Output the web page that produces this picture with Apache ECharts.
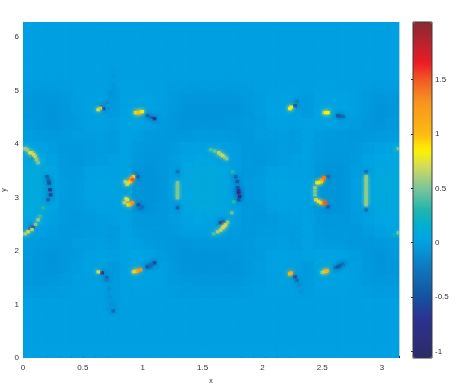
<!DOCTYPE html>
<html><head><meta charset="utf-8">
<style>html,body{margin:0;padding:0;background:#fff}#c{width:467px;height:386px}</style>
<script src="https://cdn.jsdelivr.net/npm/echarts@6/dist/echarts.min.js"></script>
</head><body><div id="c"></div>
<script>
var xTicks=[0,0.5,1,1.5,2,2.5,3];
var yTicks=[0,1,2,3,4,5,6];
var barTicks=[-1,-0.5,0,0.5,1,1.5];
var colorRange=[-1.06,2.03];
var colorStops=[[-1.06,'#2b2c66'],[-0.7,'#2e3192'],[-0.5,'#12539f'],[-0.25,'#0f75bc'],[0.03,'#00a5e6'],[0.15,'#00aed0'],[0.3,'#1fb5ad'],[0.5,'#7cc59c'],[0.7,'#d2dc5a'],[0.85,'#fff200'],[1.0,'#fdb913'],[1.3,'#f7941d'],[1.5,'#f15a24'],[1.65,'#ed1c24'],[1.85,'#b5232e'],[2.03,'#8a2a32']];
// coarse field, hundredths, rows from the top (y=2pi) to the bottom
var fieldRows=[
[0,0,0,0,0,0,0,0,0,0,0,0,0,0,0,0,0,0,0,0,0,0,0,0,0,0,0,0,0,0,0],
[0,0,0,0,0,0,0,0,0,0,0,0,0,0,0,0,0,0,0,0,0,0,0,0,0,0,0,0,0,0,0],
[0,0,0,0,0,0,0,0,0,0,0,0,0,0,0,0,0,0,0,0,0,0,0,0,0,0,0,0,0,0,0],
[0,0,0,0,0,0,0,0,0,0,0,0,0,0,0,0,0,0,0,0,0,0,0,0,0,0,0,0,0,0,0],
[0,0,0,0,0,0,0,0,0,0,0,0,0,0,0,0,0,0,0,0,0,0,0,0,0,0,0,0,0,0,0],
[-1,-1,-1,-1,0,0,0,0,1,1,0,0,-1,-1,-1,-1,-1,-1,-1,0,0,0,0,0,1,1,0,0,-1,-1,-1],
[-4,-4,-4,-3,0,1,2,-3,2,3,3,1,-2,-4,-4,-4,-4,-4,-3,-1,1,2,2,-2,3,3,3,1,-3,-4,-4],
[-4,-4,-5,-4,-1,2,3,-3,3,5,4,1,-3,-5,-5,-5,-5,-5,-4,-1,2,3,2,-3,3,5,4,1,-3,-5,-5],
[-3,-4,-5,-4,-2,1,2,1,4,5,2,-1,-4,-5,-5,-5,-5,-4,-3,-2,1,2,1,2,4,4,2,-1,-4,-5,-4],
[-1,-2,-3,-3,-1,-1,0,-2,3,0,-2,-3,-4,-4,-3,-3,-3,-3,-3,-1,-1,0,-2,2,-1,-2,-3,-4,-4,-3,-2],
[3,2,-1,-3,-3,-2,-1,-3,3,-2,-3,-3,-2,1,2,2,1,-1,-3,-3,-2,-1,-2,3,-2,-3,-3,-3,-1,2,3],
[5,5,2,-2,-4,-3,-1,0,3,-3,-4,-4,-1,3,5,4,3,0,-3,-4,-3,-1,0,3,-3,-4,-4,-2,2,5,5],
[8,8,5,-2,-3,1,2,1,3,-4,-5,-4,-1,5,8,8,6,1,-3,-3,1,2,1,2,-4,-5,-5,-1,4,7,8],
[9,9,6,-1,-2,2,4,3,3,-5,-6,-5,0,6,9,9,7,1,-2,-1,2,4,3,3,-5,-6,-5,0,5,8,9],
[9,9,6,-1,-2,2,4,3,3,-5,-6,-5,0,6,9,9,7,1,-2,-1,2,4,3,3,-5,-6,-5,0,5,8,9],
[8,8,5,-2,-3,1,2,1,3,-4,-5,-4,-1,5,8,8,6,1,-3,-3,1,2,1,2,-4,-5,-5,-1,4,7,8],
[5,5,2,-2,-4,-3,-1,0,3,-3,-4,-4,-1,3,5,4,3,0,-3,-4,-3,-1,0,3,-3,-4,-4,-2,2,5,5],
[3,2,-1,-3,-3,-2,-1,-3,3,-2,-3,-3,-2,1,2,2,1,-1,-3,-3,-2,-1,-2,3,-2,-3,-3,-3,-1,2,3],
[-1,-2,-3,-3,-1,-1,0,-2,3,0,-2,-3,-4,-4,-3,-3,-3,-3,-3,-1,-1,0,-2,2,-1,-2,-3,-4,-4,-3,-2],
[-3,-4,-5,-4,-2,1,2,1,4,5,2,-1,-4,-5,-5,-5,-5,-4,-3,-2,1,2,1,2,4,4,2,-1,-4,-5,-4],
[-4,-4,-5,-4,-1,2,3,-3,3,5,4,1,-3,-5,-5,-5,-5,-5,-4,-1,2,3,2,-3,3,5,4,1,-3,-5,-5],
[-4,-4,-4,-3,0,1,2,-3,2,3,3,1,-2,-4,-4,-4,-4,-4,-3,-1,1,2,2,-2,3,3,3,1,-3,-4,-4],
[-2,-2,-2,-1,0,1,1,-2,1,1,1,0,-1,-2,-2,-2,-2,-2,-1,0,1,1,1,-1,1,1,1,0,-1,-2,-2],
[0,0,0,0,0,0,0,-1,0,0,0,0,0,0,0,0,0,0,0,0,0,0,0,0,0,0,0,0,0,0,0],
[0,0,0,0,0,0,0,0,0,0,0,0,0,0,0,0,0,0,0,0,0,0,0,0,0,0,0,0,0,0,0],
[0,0,0,0,0,0,0,0,0,0,0,0,0,0,0,0,0,0,0,0,0,0,0,0,0,0,0,0,0,0,0],
[0,0,0,0,0,0,0,0,0,0,0,0,0,0,0,0,0,0,0,0,0,0,0,0,0,0,0,0,0,0,0],
[0,0,0,0,0,0,0,0,0,0,0,0,0,0,0,0,0,0,0,0,0,0,0,0,0,0,0,0,0,0,0]
];
// sharp features [x, y, value]
var troughs=[[.084,3.745,-.3],[.201,3.39,-.4],[.214,3.32,-.35],[.218,3.27,-.5],[.226,3.146,-.65],[.23,3.05,-.6],[.21,2.959,-.4],[.084,2.453,-.7],[.059,2.416,-.5],
[.956,3.39,-.5],[.94,3.44,-.25],[.964,2.865,-.5],[.98,2.8,-.25],[.997,2.828,-.3],[1.291,3.483,-.3],[1.291,2.809,-.4],
[1.676,3.745,-.2],[1.777,3.39,-.4],[1.79,3.3,-.45],[1.802,3.09,-.75],[1.81,3.02,-.8],[1.8,3.13,-.7],[1.802,2.959,-.5],[1.794,3.184,-.5],[1.651,2.528,-.6],[1.676,2.547,-.5],
[2.548,3.39,-.35],[2.548,2.828,-.4],[2.867,3.483,-.3],[2.867,2.772,-.3],
[.671,4.663,-.6],[.65,4.7,-.35],[.704,4.775,-.12],[.738,4.963,-.08],[.76,5.0,-.06],[.75,5.1,-.05],[.754,5.262,-.05],[.754,5.393,-.03],[1.039,4.532,-.4],[1.07,4.5,-.25],[1.098,4.476,-.7],
[2.272,4.719,-.55],[2.29,4.8,-.2],[2.632,4.532,-.45],[2.65,4.52,-.4],[2.674,4.513,-.3],
[.662,1.592,-.75],[.70,1.5,-.35],[.696,1.461,-.2],[.72,1.3,-.1],[.729,1.142,-.08],[.74,1.0,-.08],[.754,.88,-.35],[.754,1.03,-.08],[1.039,1.704,-.5],[1.06,1.72,-.35],[1.098,1.779,-.6],[1.073,1.742,-.3],
[2.272,1.517,-.55],[2.29,1.45,-.3],[2.305,1.367,-.12],[2.322,1.236,-.05],[2.61,1.69,-.25],[2.632,1.704,-.45],[2.65,1.73,-.4],[2.674,1.76,-.3],[2.699,1.798,-.08]];
var crests=[[.017,3.914,.6],[.034,3.895,.55],[.075,3.839,.6],[.059,3.839,.75],[.09,3.8,.7],[.101,3.764,.65],[.113,3.71,.55],[.126,3.652,.5],[.168,2.809,.3],[.142,2.65,.35],[.126,2.584,.55],[.105,2.5,.5],[.075,2.4,.6],[.042,2.36,.7],[.017,2.322,.6],
[.855,3.296,.6],[.87,3.25,.65],[.88,3.277,.7],[.897,3.3,.9],[.922,3.39,.7],[.905,3.36,1.1],[.914,3.333,1.5],[.847,2.903,.6],[.86,2.98,.6],[.872,2.959,.75],[.88,2.865,.8],[.897,2.88,1.0],[.914,2.903,1.3],[.897,3.109,.1],
[1.291,3.277,.5],[1.291,3.23,.5],[1.291,3.184,.5],[1.291,3.14,.5],[1.291,3.09,.5],[1.291,3.04,.5],[1.291,2.996,.5],
[1.567,3.895,.4],[1.6,3.87,.45],[1.635,3.839,.65],[1.65,3.81,.6],[1.668,3.783,.7],[1.685,3.755,.6],[1.702,3.727,.5],[1.752,3.483,.3],[1.744,2.715,.45],[1.76,2.921,.3],[1.71,2.54,.5],[1.693,2.491,.65],[1.68,2.46,.7],[1.668,2.434,.7],[1.65,2.39,.65],[1.626,2.36,.6],[1.593,2.322,.4],
[2.439,3.184,.55],[2.44,3.12,.5],[2.439,3.052,.5],[2.456,3.277,.7],[2.47,3.28,.8],[2.49,3.296,.9],[2.5,3.33,1.1],[2.515,3.371,1.4],[2.448,2.959,.7],[2.47,2.93,.75],[2.49,2.903,.85],[2.51,2.9,1.2],[2.523,2.903,1.5],
[2.867,3.39,.55],[2.867,3.34,.55],[2.867,3.296,.55],[2.867,3.24,.55],[2.867,3.184,.55],[2.867,3.14,.55],[2.867,3.09,.55],[2.867,3.04,.55],[2.867,2.996,.55],[2.867,2.95,.55],[2.867,2.903,.55],[2.867,2.865,.55],
[3.135,3.914,.5],[3.135,2.341,.5],[3.101,3.895,.2],[3.101,2.303,.2],
[.629,4.644,.75],[.645,4.67,.6],[.939,4.588,.6],[.95,4.59,.9],[.964,4.588,1.0],[.98,4.6,1.0],[.997,4.607,.8],[2.23,4.663,.85],[2.24,4.69,.8],[2.515,4.588,.5],[2.53,4.59,.85],[2.548,4.588,.85],
[.629,1.61,.7],[.922,1.61,.6],[.94,1.62,.9],[.956,1.629,1.15],[.981,1.648,1.3],[2.23,1.573,1.0],[2.24,1.59,1.1],[2.5,1.6,.5],[2.515,1.61,.6],[2.53,1.62,.95],[2.54,1.629,1.1]];

var PI=Math.PI, TAU=2*PI;
var nRows=fieldRows.length, nCols=fieldRows[0].length;
var dx=PI/nCols, dy=TAU/nRows;
var fieldData=[];
fieldRows.forEach(function(row,r){row.forEach(function(v,c){fieldData.push([(c+.5)*dx,TAU-(r+.5)*dy,v/100]);});});
function hex(c){return [parseInt(c.slice(1,3),16),parseInt(c.slice(3,5),16),parseInt(c.slice(5,7),16)];}
function sampleColor(v){
  for(var i=1;i<colorStops.length;i++){
    if(v<=colorStops[i][0]){
      var a=colorStops[i-1],b=colorStops[i],t=(v-a[0])/(b[0]-a[0]),A=hex(a[1]),B=hex(b[1]);
      return 'rgb('+[0,1,2].map(function(k){return Math.round(A[k]+(B[k]-A[k])*t);}).join(',')+')';
    }
  }
  return colorStops[colorStops.length-1][1];
}
var ramp=[];for(var k=0;k<=64;k++){ramp.push(sampleColor(colorRange[0]+(colorRange[1]-colorRange[0])*k/64));}
function renderCell(sx,sy,blur){return function(params,api){
  var p=api.coord([api.value(0),api.value(1)]);
  var s=api.size([sx,sy]);var col=api.visual('color');
  return {type:'rect',shape:{x:p[0]-s[0]/2,y:p[1]-s[1]/2,width:s[0],height:s[1]},
    style:{fill:col,shadowBlur:blur,shadowColor:col}};
};}
var axisText={color:'#333',fontSize:8,fontFamily:'Liberation Sans'};
var chart=echarts.init(document.getElementById('c'),null,{renderer:'canvas'});
chart.setOption({
 animation:false,backgroundColor:'#fff',
 grid:[{left:23,top:22,width:376,height:336,outerBoundsMode:'none',show:true,backgroundColor:'#00a5e6',borderWidth:0},
       {left:413,top:22,width:19,height:336,outerBoundsMode:'none',show:true,backgroundColor:'transparent',borderColor:'#3a3a3a',borderWidth:1,z:6}],
 xAxis:[{gridIndex:0,type:'value',min:0,max:PI,interval:.5,name:'x',nameLocation:'middle',nameMoveOverlap:false,nameGap:20,nameTextStyle:Object.assign({},axisText,{fontSize:7}),
   axisLine:{show:false},splitLine:{show:false},axisTick:{inside:true,length:2,lineStyle:{color:'#222',width:1}},
   minorTick:{show:true,splitNumber:20,length:1.5,lineStyle:{color:'#222',width:1}},minorSplitLine:{show:false},
   axisLabel:Object.assign({},axisText,{margin:6,showMaxLabel:false,formatter:function(v){return xTicks.indexOf(v)>=0?String(v):'';}})},
  {gridIndex:1,type:'value',min:0,max:1,show:false}],
 yAxis:[{gridIndex:0,type:'value',min:0,max:TAU,interval:1,name:'y',nameLocation:'middle',nameMoveOverlap:false,nameGap:15,nameTextStyle:Object.assign({},axisText,{fontSize:7}),
   axisLine:{show:true,lineStyle:{color:'#a9d9f2',width:1}},splitLine:{show:false},axisTick:{show:false},
   axisLabel:Object.assign({},axisText,{margin:4,showMaxLabel:false,formatter:function(v){return yTicks.indexOf(v)>=0?String(v):'';}})},
  {gridIndex:1,type:'value',min:colorRange[0],max:colorRange[1],position:'right',splitLine:{show:false},axisLine:{show:false},
   axisTick:{show:true,inside:true,length:2,customValues:barTicks,lineStyle:{color:'#333'}},
   axisLabel:Object.assign({},axisText,{margin:3,customValues:barTicks,formatter:function(v){return String(v);}})},
  {gridIndex:0,type:'value',min:0,max:TAU,position:'right',splitLine:{show:false},axisTick:{show:false},axisLabel:{show:false},axisLine:{show:true,lineStyle:{color:'#a9d9f2',width:1}}}],
 visualMap:{type:'continuous',show:true,min:colorRange[0],max:colorRange[1],dimension:2,seriesIndex:[0,1,2],calculable:false,showLabel:false,text:null,
   left:413,top:22,padding:0,itemWidth:19,itemHeight:336,z:3,inRange:{color:ramp}},
 series:[
  {type:'custom',name:'field',xAxisIndex:0,yAxisIndex:0,clip:true,data:fieldData,encode:{x:0,y:1},renderItem:renderCell(dx,dy,14),silent:true},
  {type:'custom',name:'troughs',xAxisIndex:0,yAxisIndex:0,clip:true,data:troughs,encode:{x:0,y:1},renderItem:renderCell(.03,.06,5),silent:true},
  {type:'custom',name:'crests',xAxisIndex:0,yAxisIndex:0,clip:true,data:crests,encode:{x:0,y:1},renderItem:renderCell(.03,.06,4),silent:true}
 ]
});
</script></body></html>
